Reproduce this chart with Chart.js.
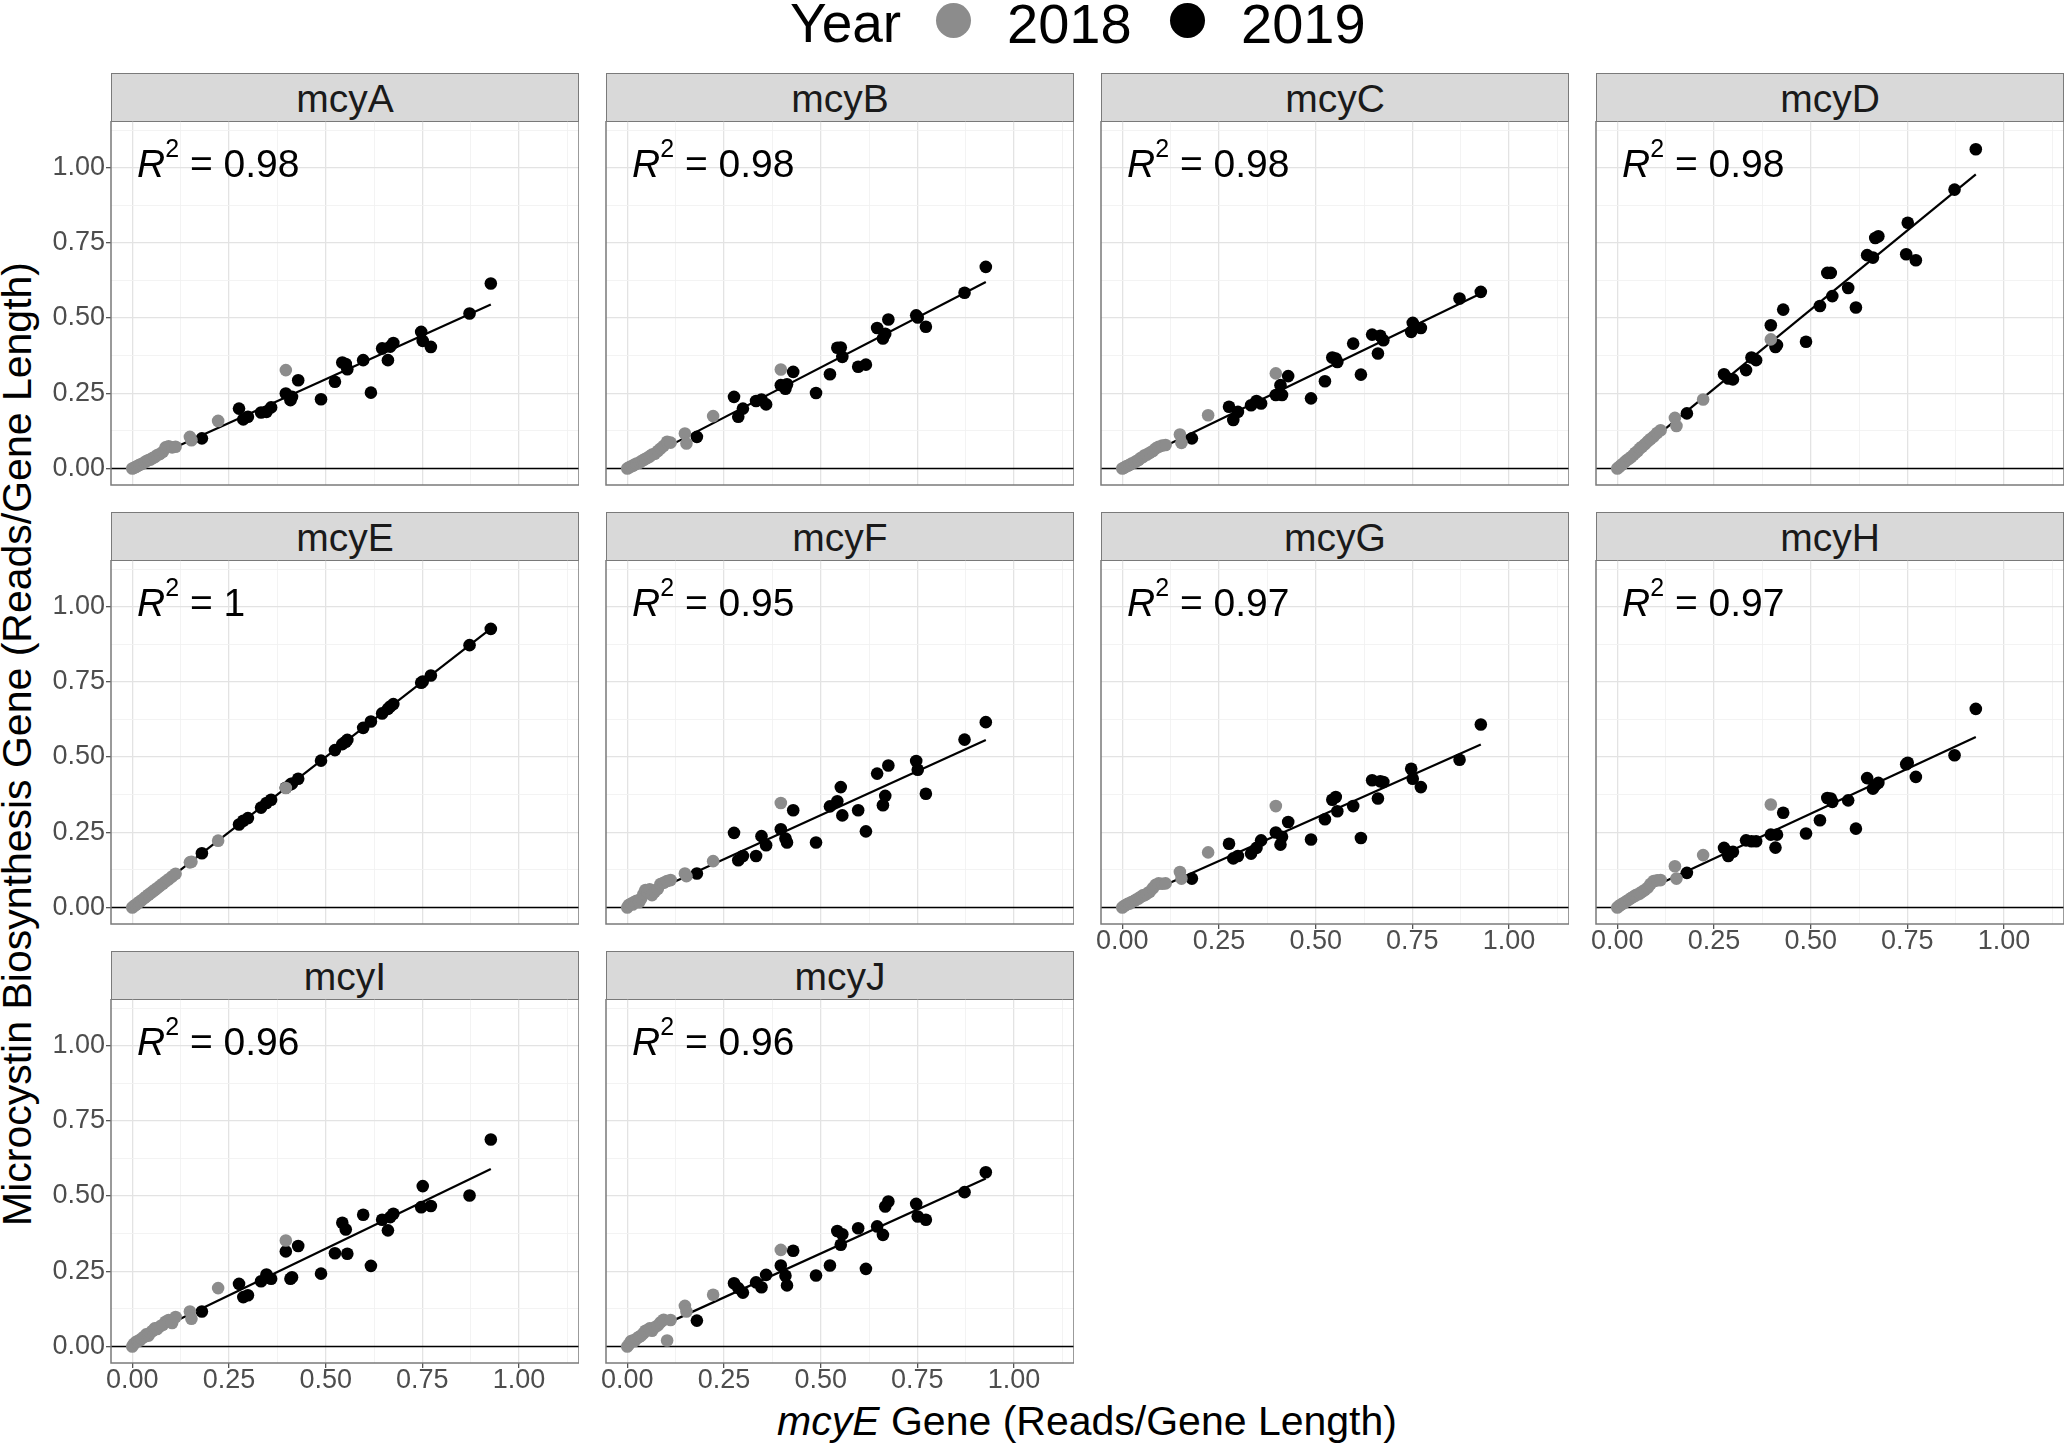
<!DOCTYPE html>
<html>
<head>
<meta charset="utf-8">
<script src="https://cdn.jsdelivr.net/npm/chart.js@4.4.1/dist/chart.umd.min.js"></script>
<style>
    body { margin: 0; width: 2064px; height: 1447px; background: #fff; position: relative; overflow: hidden;
           font-family: "Liberation Sans", Arial, sans-serif; }
    .abs { position: absolute; white-space: nowrap; line-height: 1; }
    .strip { position: absolute; background: #d9d9d9; border: 1.5px solid #7a7a7a; box-sizing: border-box;
             text-align: center; color: #1a1a1a; font-size: 39px; line-height: 1; padding-top: 5px; }
    .r2 { font-size: 39px; color: #000; }
    .r2 sup { font-size: 25px; vertical-align: 20px; line-height: 0; }
    .dot { position: absolute; border-radius: 50%; }
    .wrap { position: absolute; }
</style>
</head>
<body>

<div class="abs" style="left:790px; top:-4px; font-size:55px; color:#000;">Year</div>
<div class="dot" style="left:936px; top:3px; width:35px; height:35px; background:#8c8c8c;"></div>
<div class="abs" style="left:1007px; top:-4px; font-size:56px; color:#000;">2018</div>
<div class="dot" style="left:1170px; top:3px; width:35px; height:35px; background:#000;"></div>
<div class="abs" style="left:1241px; top:-4px; font-size:56px; color:#000;">2019</div>

<div class="abs" style="left:1087px; top:1401px; transform:translateX(-50%); font-size:41px; color:#000;"><i>mcyE</i> Gene (Reads/Gene Length)</div>
<div class="abs" style="left:17px; top:744px; transform:translate(-50%,-50%) rotate(-90deg); font-size:41px; color:#000;">Microcystin Biosynthesis Gene (Reads/Gene Length)</div>

<div id="panels"></div>

<script>
// Panel names and R squared labels
const genes = ['mcyA', 'mcyB', 'mcyC', 'mcyD', 'mcyE', 'mcyF', 'mcyG', 'mcyH', 'mcyI', 'mcyJ'];
const r2Labels = ['0.98', '0.98', '0.98', '0.98', '1', '0.95', '0.97', '0.97', '0.96', '0.96'];

// Axis ticks
const tickValues = [0, 0.25, 0.5, 0.75, 1];
const tickLabels = ['0.00', '0.25', '0.50', '0.75', '1.00'];
const minorValues = [0.125, 0.375, 0.625, 0.875, 1.125];

// mcyE gene (x) for each sample
const x2018 = [0.000, 0.004, 0.009, 0.014, 0.019, 0.024, 0.031, 0.036, 0.042, 0.047, 0.053, 0.058,
               0.064, 0.071, 0.079, 0.086, 0.094, 0.103, 0.112, 0.149, 0.153, 0.222, 0.397];
const x2019 = [0.180, 0.276, 0.287, 0.299, 0.333, 0.347, 0.359, 0.397, 0.409, 0.413, 0.429, 0.488, 0.524, 0.543,
               0.552, 0.556, 0.597, 0.617, 0.646, 0.661, 0.667, 0.675, 0.747, 0.751, 0.772, 0.872, 0.927];

// Each gene (y), 2018 samples
const mcyA2018 = [0.000, 0.002, 0.005, 0.009, 0.012, 0.015, 0.020, 0.024, 0.028, 0.030, 0.035, 0.038, 0.044, 0.048, 0.055, 0.070, 0.074, 0.070, 0.072, 0.105, 0.094, 0.158, 0.327];
const mcyB2018 = [0.000, 0.003, 0.006, 0.009, 0.013, 0.016, 0.019, 0.024, 0.028, 0.032, 0.036, 0.040, 0.046, 0.049, 0.058, 0.066, 0.075, 0.089, 0.086, 0.116, 0.083, 0.174, 0.329];
const mcyC2018 = [0.000, 0.002, 0.006, 0.009, 0.012, 0.016, 0.020, 0.024, 0.028, 0.034, 0.038, 0.044, 0.046, 0.052, 0.058, 0.066, 0.072, 0.076, 0.078, 0.113, 0.085, 0.177, 0.316];
const mcyD2018 = [0.000, 0.004, 0.010, 0.015, 0.021, 0.027, 0.033, 0.038, 0.045, 0.052, 0.058, 0.066, 0.072, 0.080, 0.090, 0.098, 0.106, 0.118, 0.127, 0.168, 0.141, 0.229, 0.429];
const mcyE2018 = [0.000, 0.004, 0.009, 0.014, 0.019, 0.024, 0.031, 0.036, 0.042, 0.047, 0.053, 0.058, 0.064, 0.071, 0.079, 0.086, 0.094, 0.103, 0.112, 0.150, 0.152, 0.222, 0.397];
const mcyF2018 = [0.000, 0.008, 0.012, 0.010, 0.019, 0.022, 0.018, 0.030, 0.045, 0.058, 0.050, 0.060, 0.041, 0.052, 0.062, 0.078, 0.082, 0.088, 0.091, 0.113, 0.104, 0.154, 0.347];
const mcyG2018 = [0.000, 0.004, 0.008, 0.012, 0.013, 0.018, 0.022, 0.026, 0.030, 0.035, 0.040, 0.041, 0.046, 0.052, 0.064, 0.075, 0.080, 0.079, 0.080, 0.118, 0.096, 0.183, 0.337];
const mcyH2018 = [0.000, 0.004, 0.009, 0.013, 0.016, 0.021, 0.027, 0.031, 0.036, 0.040, 0.044, 0.046, 0.052, 0.058, 0.066, 0.078, 0.088, 0.090, 0.091, 0.137, 0.096, 0.174, 0.342];
const mcyI2018 = [0.000, 0.008, 0.014, 0.018, 0.020, 0.026, 0.032, 0.040, 0.036, 0.046, 0.052, 0.060, 0.058, 0.066, 0.072, 0.082, 0.088, 0.078, 0.098, 0.116, 0.092, 0.194, 0.352];
const mcyJ2018 = [0.000, 0.006, 0.017, 0.020, 0.018, 0.026, 0.032, 0.036, 0.044, 0.052, 0.055, 0.060, 0.052, 0.064, 0.070, 0.080, 0.089, 0.020, 0.088, 0.135, 0.116, 0.172, 0.321];

// Each gene (y), 2019 samples
const mcyA2019 = [0.100, 0.199, 0.163, 0.172, 0.186, 0.188, 0.203, 0.249, 0.227, 0.238, 0.293, 0.230, 0.288, 0.352, 0.347, 0.330, 0.360, 0.252, 0.399, 0.360, 0.405, 0.417, 0.454, 0.424, 0.404, 0.515, 0.615];
const mcyB2019 = [0.105, 0.238, 0.172, 0.199, 0.224, 0.229, 0.213, 0.277, 0.265, 0.280, 0.321, 0.251, 0.313, 0.401, 0.402, 0.371, 0.338, 0.345, 0.467, 0.432, 0.448, 0.495, 0.509, 0.502, 0.471, 0.584, 0.670];
const mcyC2019 = [0.100, 0.205, 0.161, 0.188, 0.210, 0.224, 0.216, 0.244, 0.277, 0.244, 0.307, 0.233, 0.290, 0.369, 0.365, 0.354, 0.415, 0.312, 0.445, 0.382, 0.441, 0.426, 0.454, 0.484, 0.467, 0.565, 0.587];
const mcyD2019 = [0.183, 0.313, 0.299, 0.296, 0.327, 0.369, 0.360, 0.476, 0.404, 0.410, 0.528, 0.421, 0.540, 0.650, 0.650, 0.573, 0.600, 0.535, 0.709, 0.701, 0.766, 0.772, 0.712, 0.817, 0.692, 0.927, 1.061];
const mcyE2019 = [0.180, 0.276, 0.288, 0.297, 0.332, 0.347, 0.358, 0.398, 0.409, 0.412, 0.428, 0.488, 0.523, 0.543, 0.551, 0.557, 0.597, 0.618, 0.645, 0.660, 0.668, 0.676, 0.747, 0.751, 0.771, 0.872, 0.926];
const mcyF2019 = [0.113, 0.248, 0.157, 0.171, 0.171, 0.237, 0.207, 0.260, 0.229, 0.216, 0.323, 0.216, 0.336, 0.353, 0.400, 0.306, 0.323, 0.253, 0.445, 0.340, 0.371, 0.472, 0.487, 0.458, 0.378, 0.558, 0.616];
const mcyG2019 = [0.096, 0.212, 0.163, 0.171, 0.179, 0.198, 0.223, 0.249, 0.209, 0.235, 0.284, 0.226, 0.293, 0.358, 0.367, 0.320, 0.337, 0.231, 0.423, 0.362, 0.419, 0.417, 0.461, 0.428, 0.400, 0.491, 0.608];
const mcyH2019 = [0.115, 0.198, 0.171, 0.185, 0.223, 0.220, 0.220, 0.242, 0.199, 0.242, 0.315, 0.246, 0.290, 0.364, 0.362, 0.351, 0.356, 0.262, 0.430, 0.395, 0.406, 0.414, 0.476, 0.481, 0.434, 0.506, 0.660];
const mcyI2019 = [0.116, 0.208, 0.164, 0.170, 0.217, 0.239, 0.225, 0.316, 0.225, 0.230, 0.334, 0.242, 0.310, 0.411, 0.389, 0.308, 0.438, 0.268, 0.421, 0.386, 0.430, 0.441, 0.463, 0.533, 0.467, 0.502, 0.688];
const mcyJ2019 = [0.086, 0.210, 0.194, 0.179, 0.213, 0.197, 0.238, 0.269, 0.235, 0.203, 0.318, 0.236, 0.269, 0.384, 0.338, 0.373, 0.393, 0.258, 0.399, 0.371, 0.465, 0.482, 0.474, 0.432, 0.421, 0.513, 0.579];

const y2018 = [mcyA2018, mcyB2018, mcyC2018, mcyD2018, mcyE2018, mcyF2018, mcyG2018, mcyH2018, mcyI2018, mcyJ2018];
const y2019 = [mcyA2019, mcyB2019, mcyC2019, mcyD2019, mcyE2019, mcyF2019, mcyG2019, mcyH2019, mcyI2019, mcyJ2019];

// Layout (page pixels)
const colLeft = [111, 606, 1101, 1596];
const stripTop = [73, 512, 951];
const STRIP_H = 48;
const PLOT_W = 468;
const PLOT_H = 364;
const LEFT_M = 100;
const BOTTOM_M = 50;
const AXIS_MIN = -0.055;
const AXIS_MAX = 1.155;
const FONT = '"Liberation Sans", Arial, sans-serif';
const GREY = '#8c8c8c';

const gridValues = tickValues.concat(minorValues).sort((a, b) => a - b);
function isMajor(v) {
    return tickValues.some(t => Math.abs(t - v) < 1e-9);
}

// Least squares fit through every sample of one panel
function fitLine(xs, ys) {
    const n = xs.length;
    const mx = xs.reduce((a, b) => a + b, 0) / n;
    const my = ys.reduce((a, b) => a + b, 0) / n;
    let sxy = 0, sxx = 0;
    for (let i = 0; i < n; i++) {
        sxy += (xs[i] - mx) * (ys[i] - my);
        sxx += (xs[i] - mx) * (xs[i] - mx);
    }
    const slope = sxy / sxx;
    const lo = Math.min(...xs), hi = Math.max(...xs);
    return [{ x: lo, y: my + slope * (lo - mx) }, { x: hi, y: my + slope * (hi - mx) }];
}

// Border, zero line
const panelDecor = {
    id: 'panelDecor',
    beforeDatasetsDraw(chart) {
        const { ctx, chartArea, scales } = chart;
        const y0 = scales.y.getPixelForValue(0);
        ctx.save();
        ctx.strokeStyle = '#000';
        ctx.lineWidth = 1.6;
        ctx.beginPath();
        ctx.moveTo(chartArea.left, y0);
        ctx.lineTo(chartArea.right, y0);
        ctx.stroke();
        ctx.restore();
    },
    afterDraw(chart) {
        const { ctx, chartArea } = chart;
        ctx.save();
        ctx.strokeStyle = '#7a7a7a';
        ctx.lineWidth = 1.5;
        ctx.strokeRect(chartArea.left, chartArea.top, chartArea.right - chartArea.left, chartArea.bottom - chartArea.top);
        ctx.restore();
    },
};

function axisOptions(isX, showLabels) {
    return {
        type: 'linear',
        position: isX ? 'bottom' : 'left',
        min: AXIS_MIN,
        max: AXIS_MAX,
        border: { display: false },
        afterBuildTicks(axis) {
            axis.ticks = gridValues.map(v => ({ value: v }));
        },
        afterFit(axis) {
            if (isX) {
                axis.height = BOTTOM_M;
                axis.paddingLeft = 0;
                axis.paddingRight = 0;
            } else {
                axis.width = LEFT_M;
                axis.paddingTop = 0;
                axis.paddingBottom = 0;
            }
        },
        grid: {
            color: (c) => (c.tick && isMajor(c.tick.value)) ? '#e3e3e3' : '#f2f2f2',
            lineWidth: (c) => (c.tick && isMajor(c.tick.value)) ? 1.3 : 0.9,
            drawTicks: showLabels,
            tickLength: 5,
            tickWidth: 1.3,
            tickColor: (c) => (c.tick && isMajor(c.tick.value)) ? '#555' : 'rgba(0,0,0,0)',
        },
        ticks: {
            display: showLabels,
            autoSkip: false,
            maxRotation: 0,
            padding: isX ? -4 : 1,
            color: '#4d4d4d',
            font: { family: FONT, size: 27 },
            callback: function(value) {
                const idx = tickValues.findIndex(t => Math.abs(t - value) < 1e-9);
                return idx >= 0 ? tickLabels[idx] : '';
            },
        },
    };
}

const holder = document.getElementById('panels');

genes.forEach((gene, i) => {
    const row = Math.floor(i / 4);
    const col = i % 4;
    const left = colLeft[col];
    const sTop = stripTop[row];
    const plotTop = sTop + STRIP_H;
    const showX = row === 2 || (row === 1 && col >= 2);
    const showY = col === 0;

    // Strip
    const strip = document.createElement('div');
    strip.className = 'strip';
    strip.style.left = left + 'px';
    strip.style.top = sTop + 'px';
    strip.style.width = PLOT_W + 'px';
    strip.style.height = (STRIP_H + 1) + 'px';
    strip.textContent = gene;
    holder.appendChild(strip);

    // Chart canvas
    const wrap = document.createElement('div');
    wrap.className = 'wrap';
    wrap.style.left = (left - LEFT_M) + 'px';
    wrap.style.top = plotTop + 'px';
    const canvas = document.createElement('canvas');
    canvas.width = PLOT_W + LEFT_M;
    canvas.height = PLOT_H + BOTTOM_M;
    wrap.appendChild(canvas);
    holder.appendChild(wrap);

    const pts2018 = x2018.map((x, k) => ({ x: x, y: y2018[i][k] }));
    const pts2019 = x2019.map((x, k) => ({ x: x, y: y2019[i][k] }));
    const line = fitLine(x2018.concat(x2019), y2018[i].concat(y2019[i]));

    new Chart(canvas.getContext('2d'), {
        type: 'scatter',
        data: {
            datasets: [
                { label: '2018', data: pts2018, backgroundColor: GREY, borderWidth: 0, pointRadius: 6.3 },
                { label: '2019', data: pts2019, backgroundColor: '#000', borderWidth: 0, pointRadius: 6.3 },
                { label: 'fit', data: line, showLine: true, borderColor: '#000', borderWidth: 2.2, pointRadius: 0 },
            ],
        },
        options: {
            responsive: false,
            animation: false,
            events: [],
            layout: { padding: 0, autoPadding: false },
            plugins: { legend: { display: false }, tooltip: { enabled: false } },
            scales: {
                x: axisOptions(true, showX),
                y: axisOptions(false, showY),
            },
        },
        plugins: [panelDecor],
    });

    // R squared label
    const r2 = document.createElement('div');
    r2.className = 'abs r2';
    r2.style.left = (left + 26) + 'px';
    r2.style.top = (plotTop + 56 - 33) + 'px';
    r2.innerHTML = '<i>R</i><sup>2</sup> = ' + r2Labels[i];
    holder.appendChild(r2);
});
</script>
</body>
</html>
